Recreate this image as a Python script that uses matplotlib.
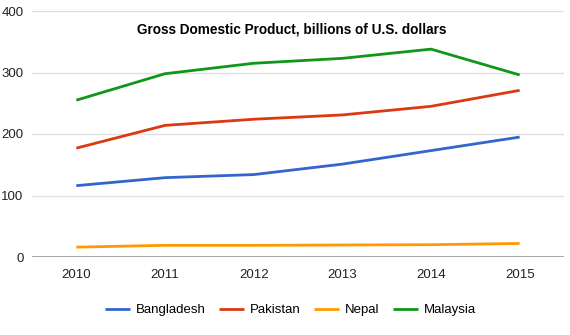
import numpy as np
import matplotlib
matplotlib.use('Agg')
import matplotlib.pyplot as plt

# ---------------------------------- Data ---------------------------------- #
years = [2010, 2011, 2012, 2013, 2014, 2015]
bangladesh = [116, 129, 134, 151, 173, 195]
pakistan = [177, 214, 224, 231, 245, 271]
nepal = [16, 19, 19, 19.5, 20, 22]
malaysia = [255, 298, 315, 323, 338, 296]
series = [('Bangladesh', bangladesh, '#3366cc'),
          ('Pakistan', pakistan, '#dc3912'),
          ('Nepal', nepal, '#ff9900'),
          ('Malaysia', malaysia, '#109618')]

plt.rcParams['font.family'] = ['Liberation Sans', 'DejaVu Sans']

fig = plt.figure(figsize=(5.7, 3.35), dpi=100)
ax = fig.add_axes([32/570, 78/335, 532/570, 246/335])

for name, vals, col in series:
    ax.plot(years, vals, color=col, lw=2, label=name, solid_capstyle='butt')

ax.set_xlim(2009.5, 2015.5)
ax.set_ylim(0, 400)
ax.set_yticks([0, 100, 200, 300, 400])
ax.set_xticks(years)
ax.set_xticklabels([str(y) for y in years])
ax.grid(axis='y', color='#e0e0e0', lw=1)
ax.axhline(0, color='#999999', lw=1.2)
ax.set_axisbelow(True)
for s in ax.spines.values():
    s.set_visible(False)
ax.tick_params(length=0, labelsize=9.5, colors='#222222')
ax.tick_params(axis='x', pad=9)
ax.tick_params(axis='y', pad=6)

# title sits inside the plot area
ax.text(0.489, 0.925, 'Gross Domestic Product, billions of U.S. dollars',
        transform=ax.transAxes, ha='center', va='center',
        fontsize=9.8, fontweight='bold', color='black')

fig.legend(loc='center', bbox_to_anchor=(0.51, 1 - 310/335),
           ncol=4, frameon=False, fontsize=9.5, handlelength=1.9,
           columnspacing=1.0, handletextpad=0.45)

plt.savefig('out.png', dpi=100)
plt.close()
